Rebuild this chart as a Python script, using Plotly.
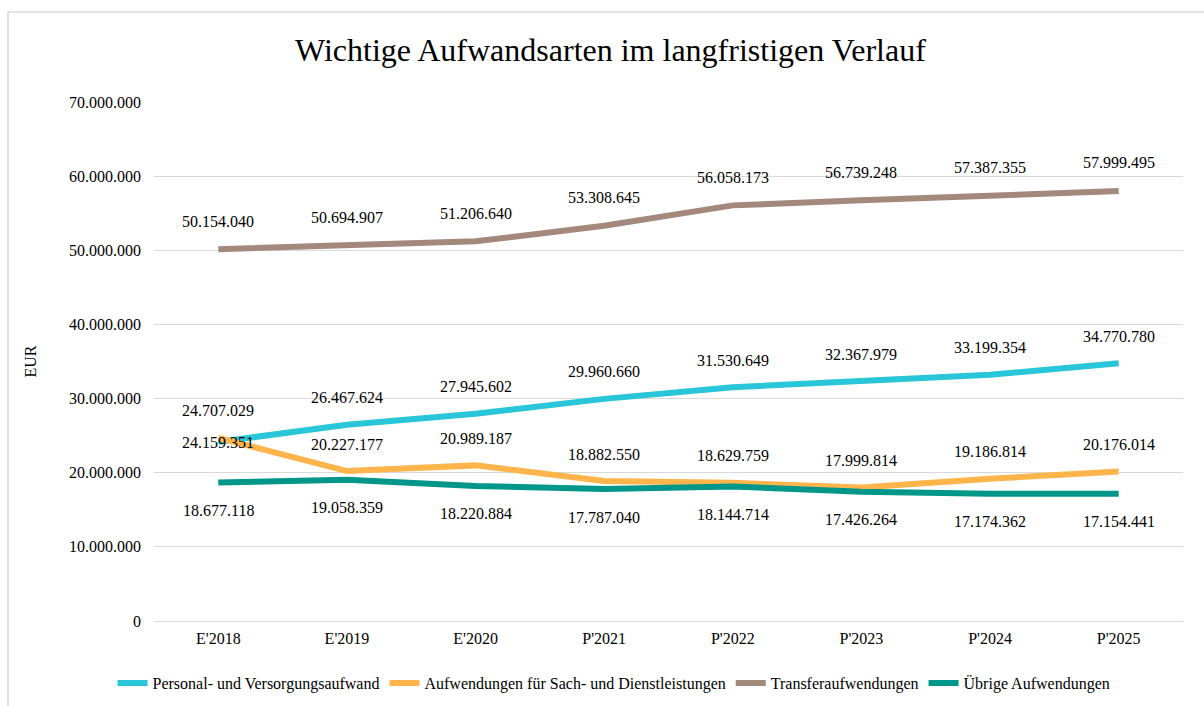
import plotly.graph_objects as go

categories = ["E'2018", "E'2019", "E'2020", "P'2021", "P'2022", "P'2023", "P'2024", "P'2025"]
personal = [24159351, 26467624, 27945602, 29960660, 31530649, 32367979, 33199354, 34770780]
sach = [24707029, 20227177, 20989187, 18882550, 18629759, 17999814, 19186814, 20176014]
transfer = [50154040, 50694907, 51206640, 53308645, 56058173, 56739248, 57387355, 57999495]
uebrige = [18677118, 19058359, 18220884, 17787040, 18144714, 17426264, 17174362, 17154441]

series = [
    ("Personal- und Versorgungsaufwand", personal, "#29C5D8", [-1, 27, 27, 27, 27, 27, 27, 27]),
    ("Aufwendungen für Sach- und Dienstleistungen", sach, "#FFB54C", [27] * 8),
    ("Transferaufwendungen", transfer, "#A3887C", [28] * 8),
    ("Übrige Aufwendungen", uebrige, "#00968A", [-28] * 8),
]

FONT = "Liberation Serif"

def fmt(v):
    return f"{v:,}".replace(",", ".")

fig = go.Figure()
annotations = []
for name, vals, color, shifts in series:
    fig.add_trace(go.Scatter(
        x=categories, y=vals, name=name, mode="lines",
        line=dict(color=color, width=6), hoverinfo="skip",
    ))
    for c, v, s in zip(categories, vals, shifts):
        annotations.append(dict(
            x=c, y=v, xref="x", yref="y", text=fmt(v), showarrow=False,
            yshift=s, font=dict(family=FONT, size=16, color="#000000"),
        ))

pl, pr, pt, pb = 154, 1183, 102, 621
W, H = 1204, 706
def px(x):
    return (x - pl) / (pr - pl)
def py(y):
    return (pb - y) / (pb - pt)

fig.update_layout(
    width=W, height=H,
    margin=dict(l=pl, r=W - pr, t=pt, b=H - pb),
    paper_bgcolor="#FFFFFF", plot_bgcolor="#FFFFFF",
    separators=",.",
    font=dict(family=FONT, size=16, color="#000000"),
    title=dict(text="Wichtige Aufwandsarten im langfristigen Verlauf",
               x=0.507, xref="container", xanchor="center",
               y=1 - 50 / H, yref="container", yanchor="middle",
               font=dict(family=FONT, size=32, color="#000000")),
    xaxis=dict(type="category", range=[-0.5, 7.5], showgrid=False,
               showline=False, ticks="", ticklabelstandoff=6,
               tickfont=dict(family=FONT, size=16, color="#000000")),
    yaxis=dict(range=[0, 70000000], dtick=10000000, tickformat=",d",
               showgrid=True, gridcolor="#D9D9D9", gridwidth=1,
               zeroline=True, zerolinecolor="#D9D9D9", zerolinewidth=1,
               showline=False, ticks="", ticklabelstandoff=12,
               tickfont=dict(family=FONT, size=16, color="#000000"),
               title=dict(text="EUR", standoff=28, font=dict(family=FONT, size=16))),
    legend=dict(orientation="h", x=0.51, xref="container", xanchor="center",
                y=1 - 683 / H, yref="container", yanchor="middle",
                font=dict(family=FONT, size=16, color="#000000"), itemwidth=30,
                tracegroupgap=0),
    showlegend=True,
    annotations=annotations,
    shapes=[dict(type="rect", xref="paper", yref="paper",
                 x0=px(8), x1=px(1215), y0=py(716), y1=py(12),
                 line=dict(color="#D9D9D9", width=1.5), fillcolor="rgba(0,0,0,0)",
                 layer="below")],
)

fig.write_html("out.html", config={"displayModeBar": False},
               post_script="document.body.style.margin='0';document.body.style.padding='0';")
